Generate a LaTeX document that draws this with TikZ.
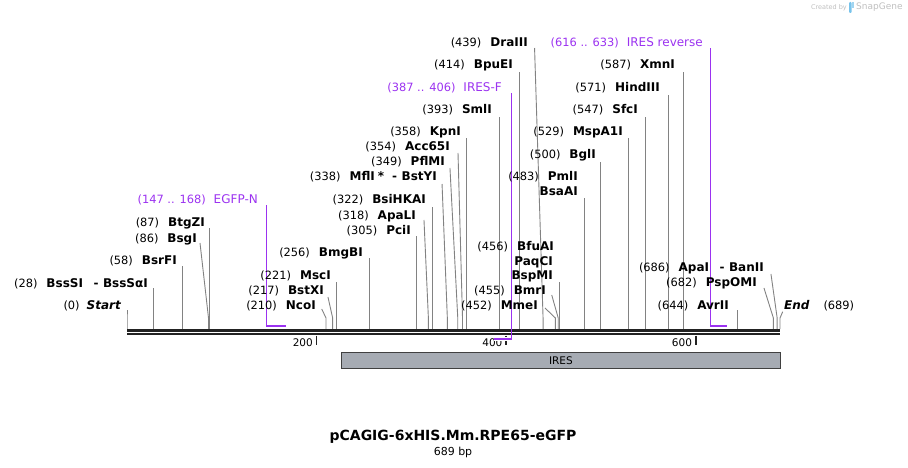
\documentclass[tikz,border=0pt]{standalone}
\usepackage{fontspec}
\setmainfont{DejaVu Sans}
\usetikzlibrary{positioning}

\definecolor{seqblack}{RGB}{34,34,34}
\definecolor{sitegray}{RGB}{130,130,130}
\definecolor{primerpurple}{RGB}{155,50,240}
\definecolor{featgray}{RGB}{166,171,179}
\definecolor{logoblue}{RGB}{120,195,235}

\newcommand{\numf}{\fontsize{11.4}{13}\selectfont\mdseries}
\newcommand{\namef}{\fontsize{12}{14}\selectfont\bfseries}
\newcommand{\cut}[2]{{\numf(#1)}\hspace{9pt}{\namef #2}}
\newcommand{\also}{\hspace{10.5pt}{\namef -}\hspace{4.5pt}}

\tikzset{
  site/.style={draw=sitegray, line width=0.9pt},
  lbl/.style={anchor=base east, inner sep=0pt},
  primer/.style={draw=primerpurple, line width=0.9pt},
  primerbar/.style={draw=primerpurple, line width=2pt},
  plbl/.style={anchor=base east, inner sep=0pt, text=primerpurple, font=\fontsize{12}{14}\selectfont},
}

\begin{document}
\begin{tikzpicture}[x=1pt, y=-1pt]
	\useasboundingbox (0,0) rectangle (908,468);

	% cut sites: name/bp/slant of the top end/top y
	\foreach \id/\p/\dx/\ty in {start/0/0/310, bsssi/28/0/288, bsrfi/58/0/266,
		bsgi/86/-8.5/243, btgzi/87/0/228, ncoi/210/-4.3/309, bstxi/217/-4.7/297,
		msci/221/0/282, bmgbi/256/0/258, pcii/305/0/236, apali/318/-4.4/220,
		bsihkai/322/0/207, mfli/338/-5.3/184, pflmi/349/-7.8/168, acc65i/354/-4.5/153,
		kpni/358/0/138, smli/393/0/117, bpuei/414/0/72, draiii/439/-8.5/48,
		mmei/452/-10.4/308, bmri/455/-6.5/295, bfuai/456/0/282, pmli/483/0/198,
		bgli/500/0/162, mspa1i/529/0/138, sfci/547/0/117, hindiii/571/0/95,
		xmni/587/0/72, avrii/644/0/310, pspomi/682/-9.4/288, apai/686/-6.2/274,
		end/689/2.7/311.7} {
		\coordinate (\id-foot) at ({127+\p*0.94775},329);
		\coordinate (\id-top) at ({127+\p*0.94775+\dx},\ty);
		\draw[site] (\id-foot) -- ++(0,-11) -- (\id-top);
	}

	% sequence
	\coordinate (seq-a) at (127,330.7);
	\coordinate (seq-b) at (780,330.7);
	\draw[seqblack, line width=2.7pt] (seq-a) -- (seq-b);
	\draw[seqblack, line width=2pt] ([yshift=-3.6pt]seq-a) -- ([yshift=-3.6pt]seq-b);

	% ticks
	\foreach \t/\x in {200/316.5, 400/506.1, 600/695.7} {
		\coordinate (tick\t) at (\x,335.5);
		\draw[seqblack, line width=1.6pt] (tick\t) -- ++(0,9.5);
		\node[anchor=east, inner sep=0pt, font=\fontsize{10.5}{12}\selectfont] (tick\t-lbl)
			at ([xshift=-3.5pt, yshift=-7pt]tick\t) {\t};
	}

	% primers
	\coordinate (egfpn-a) at (266.3,326);
	\coordinate (egfpn-b) at (286.2,326);
	\draw[primer] (egfpn-a) -- (266.3,205);
	\draw[primerbar] ([xshift=-0.45pt]egfpn-a) -- (egfpn-b);
	\coordinate (iresf-a) at (493.8,338.5);
	\coordinate (iresf-b) at (511.8,338.5);
	\draw[primerbar, preaction={draw=white, line width=4pt}] (iresf-a) -- ([xshift=0.45pt]iresf-b);
	\draw[primer] (iresf-b) -- (511.8,93);
	\coordinate (iresr-a) at (710.8,326);
	\coordinate (iresr-b) at (726.9,326);
	\draw[primer] (iresr-a) -- (710.8,48);
	\draw[primerbar] ([xshift=-0.45pt]iresr-a) -- (iresr-b);

	% IRES feature
	\node[draw=black!75, fill=featgray, line width=0.8pt, minimum width=439pt, minimum height=16pt,
		inner sep=0pt, anchor=north west, font=\fontsize{10.5}{12}\selectfont] (ires) at (341,352) {IRES};

	% labels
	\node[lbl] (start-lbl) at (121,309) {{\numf(0)}\hspace{7pt}{\namef\itshape Start}};
	\node[lbl] (bsssi-lbl) at (148,287) {\cut{28}{BssSI}\also{\namef BssSαI}};
	\node[lbl] (bsrfi-lbl) at (177,264) {\cut{58}{BsrFI}};
	\node[lbl] (bsgi-lbl) at (197,242) {\cut{86}{BsgI}};
	\node[lbl] (btgzi-lbl) at (205,226) {\cut{87}{BtgZI}};
	\node[plbl] (egfpn-lbl) at (258,204) {{\numf(147 .. 168)}\hspace{8pt}EGFP-N};
	\node[lbl] (ncoi-lbl) at (316,309) {\cut{210}{NcoI}};
	\node[lbl] (bstxi-lbl) at (324,294) {\cut{217}{BstXI}};
	\node[lbl] (msci-lbl) at (331,279) {\cut{221}{MscI}};
	\node[lbl] (bmgbi-lbl) at (363,256) {\cut{256}{BmgBI}};
	\node[lbl] (pcii-lbl) at (411,234) {\cut{305}{PciI}};
	\node[lbl] (apali-lbl) at (416,219) {\cut{318}{ApaLI}};
	\node[lbl] (bsihkai-lbl) at (426,204) {\cut{322}{BsiHKAI}};
	\node[lbl] (mfli-lbl) at (437,181) {\cut{338}{MflI}\hspace{3pt}{\namef *}\hspace{8pt}{\namef -}\hspace{4.5pt}{\namef BstYI}};
	\node[lbl] (pflmi-lbl) at (445,166) {\cut{349}{PflMI}};
	\node[lbl] (acc65i-lbl) at (450,151) {\cut{354}{Acc65I}};
	\node[lbl] (kpni-lbl) at (461,136) {\cut{358}{KpnI}};
	\node[lbl] (smli-lbl) at (492,114) {\cut{393}{SmlI}};
	\node[plbl] (iresf-lbl) at (502,92) {{\numf(387 .. 406)}\hspace{8pt}IRES-F};
	\node[lbl] (bpuei-lbl) at (513,69) {\cut{414}{BpuEI}};
	\node[lbl] (draiii-lbl) at (528,47) {\cut{439}{DraIII}};
	\node[lbl] (bfuai-lbl) at (554,250) {\cut{456}{BfuAI}};
	\node[lbl] (paqci-lbl) at (553,265) {\namef PaqCI};
	\node[lbl] (bspmi-lbl) at (553,279) {\namef BspMI};
	\node[lbl] (bmri-lbl) at (546,294) {\cut{455}{BmrI}};
	\node[lbl] (mmei-lbl) at (538,309) {\cut{452}{MmeI}};
	\node[lbl] (pmli-lbl) at (578,181) {\cut{483}{PmlI}};
	\node[lbl] (bsaai-lbl) at (578,196) {\namef BsaAI};
	\node[lbl] (bgli-lbl) at (596,159) {\cut{500}{BglI}};
	\node[lbl] (mspa1i-lbl) at (623,136) {\cut{529}{MspA1I}};
	\node[lbl] (sfci-lbl) at (638,114) {\cut{547}{SfcI}};
	\node[lbl] (hindiii-lbl) at (660,92) {\cut{571}{HindIII}};
	\node[lbl] (xmni-lbl) at (675,69) {\cut{587}{XmnI}};
	\node[plbl] (iresr-lbl) at (703,47) {{\numf(616 .. 633)}\hspace{8pt}IRES reverse};
	\node[lbl] (apai-lbl) at (764,271) {\cut{686}{ApaI}\also{\namef BanII}};
	\node[lbl] (pspomi-lbl) at (757,286) {\cut{682}{PspOMI}};
	\node[lbl] (avrii-lbl) at (729,309) {\cut{644}{AvrII}};
	\node[lbl, anchor=base west] (end-lbl) at (784,309) {{\namef\itshape End}\hspace{14pt}{\numf(689)}};

	% title
	\node[font=\fontsize{14}{16}\selectfont\bfseries] (title) at (453,437) {pCAGIG-6xHIS.Mm.RPE65-eGFP};
	\node[font=\fontsize{11}{13}\selectfont] (size) at (453,452.5) {689 bp};

	% watermark
	\node[anchor=west, inner sep=0pt, text=black!25, font=\fontsize{9}{11}\selectfont] (sg) at (856,7) {SnapGene};
	\node[anchor=east, inner sep=0pt, text=black!25, font=\fontsize{6.5}{8}\selectfont] (sgby) at (847,7.5) {Created by};
	\fill[logoblue, rounded corners=1pt] (849,2) rectangle (851.5,13);
	\fill[logoblue!70] (851.5,2.5) rectangle (854,8);
\end{tikzpicture}
\end{document}
